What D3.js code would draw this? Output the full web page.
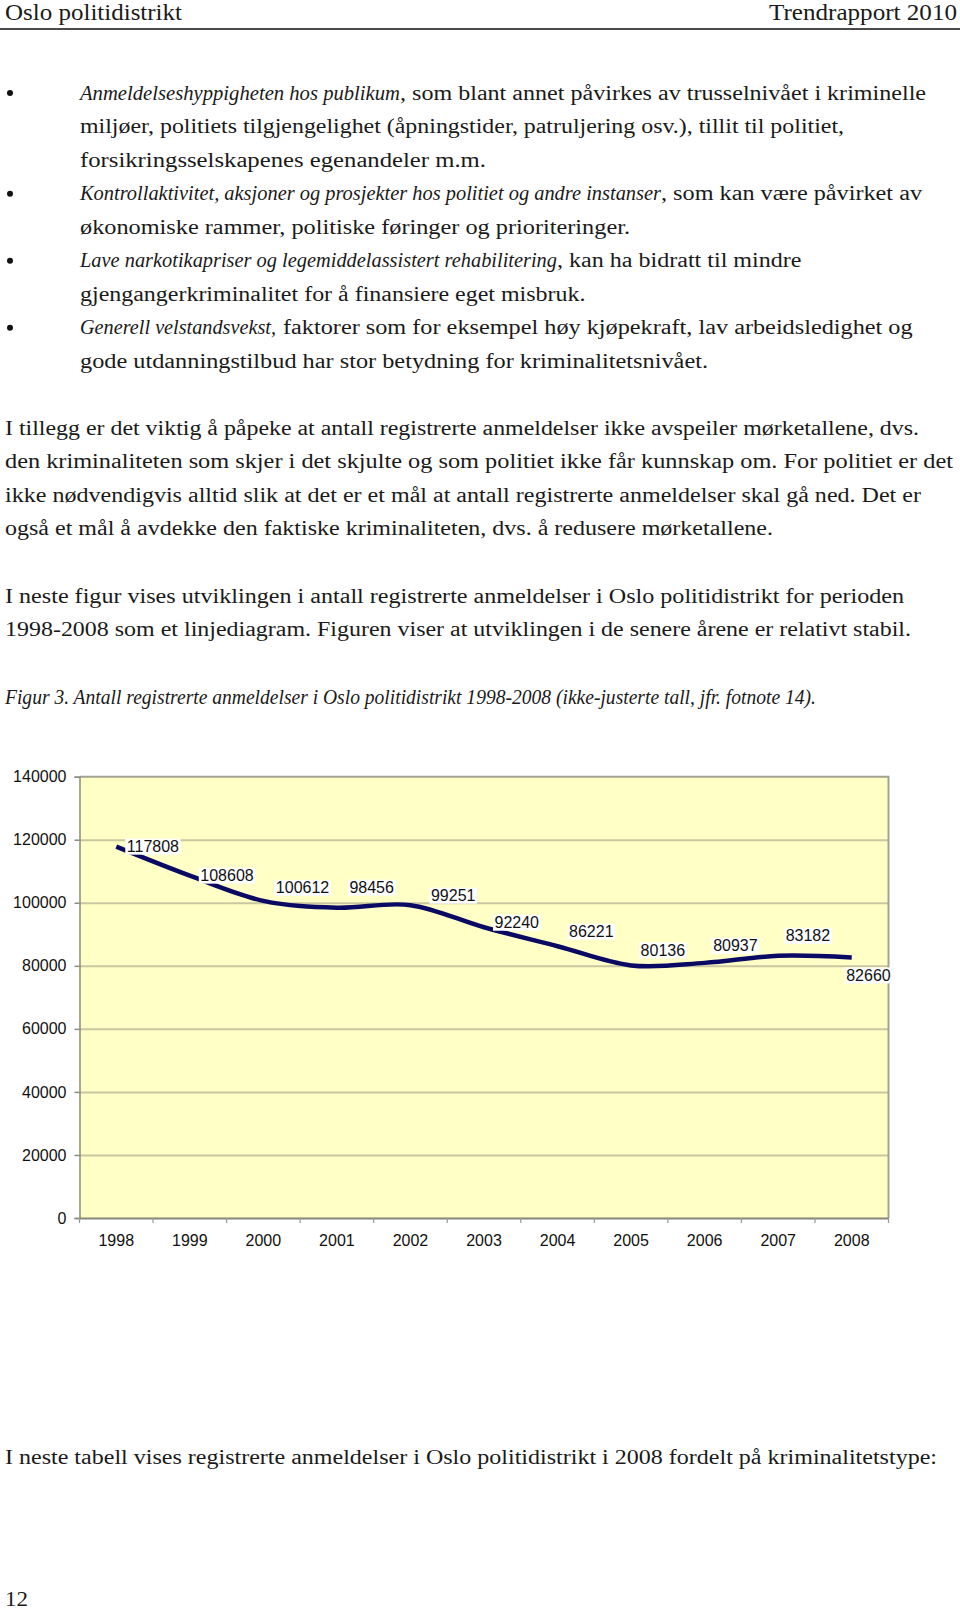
<!DOCTYPE html>
<html>
<head>
<meta charset="utf-8">
<script src="https://cdn.jsdelivr.net/npm/d3@7"></script>
<style>
  html, body { margin: 0; padding: 0; background: #fff; }
  svg { display: block; }
  .serif { font-family: "Liberation Serif", "Times New Roman", serif; fill: #1a1a1a; }
  .sans { font-family: "Liberation Sans", Arial, sans-serif; }
</style>
</head>
<body>
<script>
// ---------------- DATA ----------------
const years = ["1998","1999","2000","2001","2002","2003","2004","2005","2006","2007","2008"];
const reports = [117808,108608,100612,98456,99251,92240,86221,80136,80937,83182,82660];
const yTicks = [0,20000,40000,60000,80000,100000,120000,140000];

// label placement (layout only: offset of label box from its point)
const labelDx = [9, 9, 11, 11, 19, 9, 10, 8, 7, 6, -7];
const labelDy = [0, 0, -13, -20, -9.5, -4.5, -14.5, -15, -17, -20, 18];

// ---------------- TEXT ----------------
const headerLeft = "Oslo politidistrikt";
const headerRight = "Trendrapport 2010";

const bulletLines = [
  {y: 99.5, bullet: true, segs: [
    {t: "Anmeldelseshyppigheten hos publikum", it: true, x0: 80, x1: 400},
    {t: ", som blant annet påvirkes av trusselnivået i kriminelle", it: false, x0: 400, x1: 926}]},
  {y: 133.05, segs: [{t: "miljøer, politiets tilgjengelighet (åpningstider, patruljering osv.), tillit til politiet,", x0: 80, x1: 844}]},
  {y: 166.6, segs: [{t: "forsikringsselskapenes egenandeler m.m.", x0: 80, x1: 486}]},
  {y: 200.15, bullet: true, segs: [
    {t: "Kontrollaktivitet, aksjoner og prosjekter hos politiet og andre instanser", it: true, x0: 80, x1: 661},
    {t: ", som kan være påvirket av", x0: 661, x1: 922}]},
  {y: 233.7, segs: [{t: "økonomiske rammer, politiske føringer og prioriteringer.", x0: 80, x1: 630}]},
  {y: 267.25, bullet: true, segs: [
    {t: "Lave narkotikapriser og legemiddelassistert rehabilitering", it: true, x0: 80, x1: 557},
    {t: ", kan ha bidratt til mindre", x0: 557, x1: 801.5}]},
  {y: 300.8, segs: [{t: "gjengangerkriminalitet for å finansiere eget misbruk.", x0: 80, x1: 585.5}]},
  {y: 334.35, bullet: true, segs: [
    {t: "Generell velstandsvekst,", it: true, x0: 80, x1: 276},
    {t: "faktorer som for eksempel høy kjøpekraft, lav arbeidsledighet og", x0: 283, x1: 912.6}]},
  {y: 367.9, segs: [{t: "gode utdanningstilbud har stor betydning for kriminalitetsnivået.", x0: 80, x1: 708}]},

  {y: 434.5, segs: [{t: "I tillegg er det viktig å påpeke at antall registrerte anmeldelser ikke avspeiler mørketallene, dvs.", x0: 5, x1: 919}]},
  {y: 468.1, segs: [{t: "den kriminaliteten som skjer i det skjulte og som politiet ikke får kunnskap om. For politiet er det", x0: 5, x1: 953}]},
  {y: 501.7, segs: [{t: "ikke nødvendigvis alltid slik at det er et mål at antall registrerte anmeldelser skal gå ned. Det er", x0: 5, x1: 921}]},
  {y: 535.3, segs: [{t: "også et mål å avdekke den faktiske kriminaliteten, dvs. å redusere mørketallene.", x0: 5, x1: 773}]},

  {y: 602.5, segs: [{t: "I neste figur vises utviklingen i antall registrerte anmeldelser i Oslo politidistrikt for perioden", x0: 5, x1: 904}]},
  {y: 636, segs: [{t: "1998-2008 som et linjediagram. Figuren viser at utviklingen i de senere årene er relativt stabil.", x0: 5, x1: 911}]},

  {y: 704, segs: [{t: "Figur 3. Antall registrerte anmeldelser i Oslo politidistrikt 1998-2008 (ikke-justerte tall, jfr. fotnote 14).", it: true, x0: 5, x1: 816}]},

  {y: 1464, segs: [{t: "I neste tabell vises registrerte anmeldelser i Oslo politidistrikt i 2008 fordelt på kriminalitetstype:", x0: 5, x1: 937}]}
];
const pageNumber = "12";

// ---------------- DRAW ----------------
const W = 960, H = 1613;
const svg = d3.select("body").append("svg").attr("width", W).attr("height", H);

// header
svg.append("text").attr("class", "serif").attr("x", 5).attr("y", 20)
  .attr("font-size", 24).attr("textLength", 177).attr("lengthAdjust", "spacingAndGlyphs")
  .text(headerLeft);
svg.append("text").attr("class", "serif").attr("x", 769).attr("y", 20)
  .attr("font-size", 24).attr("textLength", 188).attr("lengthAdjust", "spacingAndGlyphs")
  .text(headerRight);
svg.append("line").attr("x1", 0).attr("x2", W).attr("y1", 29).attr("y2", 29)
  .attr("stroke", "#4a4a4a").attr("stroke-width", 2);

// body text
bulletLines.forEach(line => {
  if (line.bullet) {
    svg.append("circle").attr("cx", 10).attr("cy", line.y - 6.5).attr("r", 3).attr("fill", "#111");
  }
  line.segs.forEach(s => {
    svg.append("text").attr("class", "serif")
      .attr("x", s.x0).attr("y", line.y)
      .attr("font-size", 20)
      .attr("font-style", s.it ? "italic" : "normal")
      .attr("textLength", s.x1 - s.x0)
      .attr("lengthAdjust", "spacingAndGlyphs")
      .text(s.t);
  });
});

svg.append("text").attr("class", "serif").attr("x", 5).attr("y", 1606)
  .attr("font-size", 22).attr("textLength", 23).attr("lengthAdjust", "spacingAndGlyphs")
  .text(pageNumber);

// ---------------- CHART ----------------
const plot = {left: 79.5, right: 888.5, top: 776.7, bottom: 1218};
const x = d3.scaleBand().domain(years).range([plot.left, plot.right]).padding(0);
const y = d3.scaleLinear().domain([0, 140000]).range([plot.bottom, plot.top]);

const g = svg.append("g");

g.append("rect").attr("x", plot.left).attr("y", plot.top)
  .attr("width", plot.right - plot.left).attr("height", plot.bottom - plot.top)
  .attr("fill", "#FFFFC6");

const grid = g.append("g").attr("transform", `translate(${plot.left},0)`)
  .call(d3.axisLeft(y).tickValues(yTicks.filter(v => v > 0 && v < 140000)).tickSize(-(plot.right - plot.left)).tickFormat(""));
grid.select(".domain").remove();
grid.selectAll(".tick line").attr("stroke", "#C9C6A0").attr("stroke-width", 2);

g.append("path")
  .attr("d", `M${plot.left},${plot.top}H${plot.right}V${plot.bottom}`)
  .attr("fill", "none").attr("stroke", "#A3A394").attr("stroke-width", 2);

const yAxis = g.append("g").attr("transform", `translate(${plot.left},0)`)
  .call(d3.axisLeft(y).tickValues(yTicks).tickSize(5).tickPadding(8).tickFormat(d3.format("d")));
yAxis.select(".domain").attr("stroke", "#8C8C80").attr("stroke-width", 1.5);
yAxis.selectAll(".tick line").attr("stroke", "#8C8C80").attr("stroke-width", 1.5);
yAxis.selectAll(".tick text").attr("class", "sans").attr("font-size", 16).attr("fill", "#111");

const xAxis = g.append("g").attr("transform", `translate(0,${plot.bottom})`)
  .call(d3.axisBottom(x).tickSize(0).tickPadding(17));
xAxis.select(".domain").attr("stroke", "#85857A").attr("stroke-width", 2);
xAxis.selectAll(".tick text").attr("class", "sans").attr("font-size", 16).attr("fill", "#111");
g.append("g").selectAll("line")
  .data(years.concat(["end"]))
  .join("line")
  .attr("x1", (d, i) => i < years.length ? x(d) : plot.right)
  .attr("x2", (d, i) => i < years.length ? x(d) : plot.right)
  .attr("y1", plot.bottom).attr("y2", plot.bottom + 5)
  .attr("stroke", "#9A9A8C").attr("stroke-width", 1.2);

const cx = (i) => x(years[i]) + x.bandwidth() / 2;
const lineGen = d3.line()
  .x((d, i) => cx(i))
  .y(d => y(d))
  .curve(d3.curveCardinal.tension(0));
g.append("path").datum(reports)
  .attr("d", lineGen)
  .attr("fill", "none").attr("stroke", "#0A0A64").attr("stroke-width", 4.5)
  .attr("stroke-linecap", "butt");

const fmt = d3.format("d");
const labels = g.append("g").attr("class", "sans").attr("font-size", 16);
reports.forEach((v, i) => {
  const lg = labels.append("g");
  const t = lg.append("text")
    .attr("x", cx(i) + labelDx[i] + 1.5)
    .attr("y", y(v) + labelDy[i])
    .attr("dy", "0.35em")
    .attr("fill", "#111")
    .text(fmt(v));
  const bb = t.node().getBBox();
  lg.insert("rect", "text")
    .attr("x", bb.x - 1.5).attr("y", y(v) + labelDy[i] - 8)
    .attr("width", bb.width + 3).attr("height", 16)
    .attr("fill", "#fff");
});
</script>
</body>
</html>
